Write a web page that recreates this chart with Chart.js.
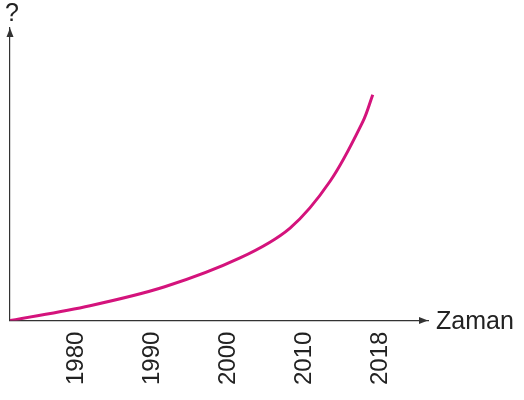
<!DOCTYPE html>
<html>
<head>
<meta charset="utf-8">
<script src="https://cdn.jsdelivr.net/npm/chart.js@4"></script>
<style>
  html, body { margin: 0; padding: 0; background: #fff; }
  #wrap { width: 524px; height: 400px; }
</style>
</head>
<body>
<div id="wrap"><canvas id="chart"></canvas></div>
<script>
// tick labels (evenly spaced on the axis, positions 1..5)
const tickLabels = ['1980', '1990', '2000', '2010', '2018'];
const tickPos = [1, 2, 3, 4, 5];

// curve (x in tick-position units, y in arbitrary units)
const curveX = [0.16, 1.21, 2.19, 3.178, 3.835, 4.36, 4.79, 4.92];
const curveY = [0, 15, 34, 63, 93, 140, 200, 227];

const xTitle = 'Zaman';
const yTitle = '?';

const axisColor = '#333';

// arrows at the end of both axes + the axis names
const arrowPlugin = {
  id: 'arrows',
  afterDraw(chart) {
    const c = chart.ctx;
    const a = chart.chartArea;
    c.save();
    c.fillStyle = axisColor;
    // y arrow
    c.beginPath();
    c.moveTo(a.left, a.top);
    c.lineTo(a.left - 3.5, a.top + 9);
    c.lineTo(a.left + 3.5, a.top + 9);
    c.closePath();
    c.fill();
    // x arrow
    c.beginPath();
    c.moveTo(a.right, a.bottom);
    c.lineTo(a.right - 9, a.bottom - 3.5);
    c.lineTo(a.right - 9, a.bottom + 3.5);
    c.closePath();
    c.fill();
    // labels
    c.fillStyle = '#222';
    c.font = '25px "Liberation Sans", Arial, sans-serif';
    c.textBaseline = 'middle';
    c.textAlign = 'left';
    c.fillText(xTitle, a.right + 8, a.bottom + 1);
    c.textAlign = 'center';
    c.fillText(yTitle, a.left + 2, a.top - 14);
    c.restore();
  }
};

const ctx = document.getElementById('chart').getContext('2d');
const chart = new Chart(ctx, {
  type: 'line',
  data: {
    datasets: [{
      data: curveX.map((x, i) => ({ x: x, y: curveY[i] })),
      borderColor: '#d4137c',
      borderWidth: 3,
      pointRadius: 0,
      tension: 0.35,
      fill: false
    }]
  },
  options: {
    responsive: true,
    maintainAspectRatio: false,
    animation: false,
    layout: { padding: { left: 10, top: 28, right: 96, bottom: 4 } },
    plugins: { legend: { display: false }, tooltip: { enabled: false } },
    scales: {
      x: {
        type: 'linear',
        min: 0.16,
        max: 5.645,
        afterBuildTicks: (s) => { s.ticks = tickPos.map(v => ({ value: v })); },
        ticks: {
          callback: (v) => tickLabels[tickPos.indexOf(v)] || '',
          minRotation: 90,
          maxRotation: 90,
          padding: 11,
          labelOffset: 2,
          color: '#222',
          font: { family: '"Liberation Sans", Arial, sans-serif', size: 24 }
        },
        grid: { display: false, drawTicks: false },
        border: { display: true, color: axisColor, width: 1.2 }
      },
      y: {
        min: 0,
        max: 294,
        ticks: { display: false },
        grid: { display: false, drawTicks: false },
        border: { display: true, color: axisColor, width: 1.2 }
      }
    }
  },
  plugins: [arrowPlugin]
});
</script>
</body>
</html>
